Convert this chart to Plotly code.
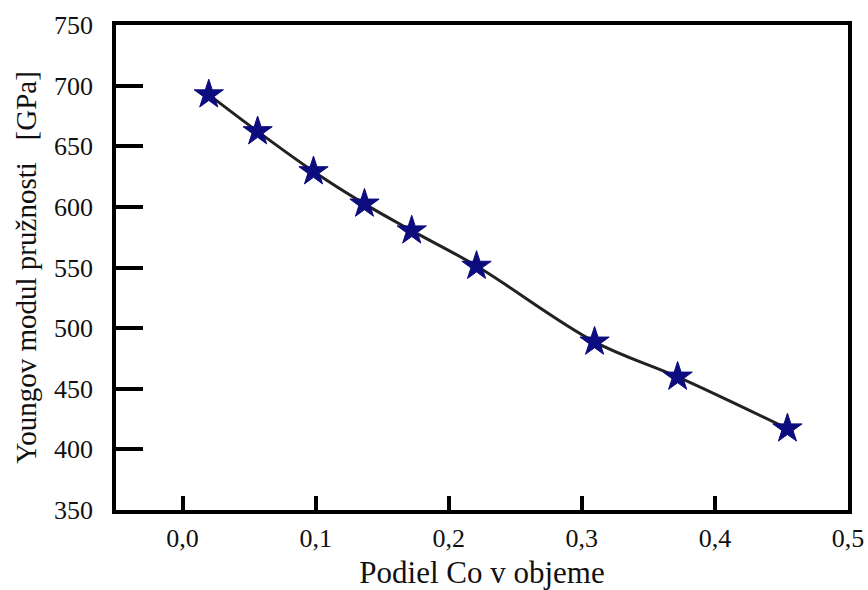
import plotly.graph_objects as go

co_fraction = [0.0197, 0.0564, 0.0984, 0.1367, 0.1722, 0.2209, 0.3096, 0.372, 0.4545]
young_modulus = [692.6, 662.2, 629.2, 602.5, 580.4, 551.2, 488.7, 459.8, 417.1]

x_tickvals = [0.0, 0.1, 0.2, 0.3, 0.4, 0.5]
x_ticktext = ["0,0", "0,1", "0,2", "0,3", "0,4", "0,5"]
y_tickvals = [350, 400, 450, 500, 550, 600, 650, 700, 750]

font_family = "Liberation Serif, Times New Roman, serif"

fig = go.Figure()
fig.add_trace(go.Scatter(
    x=co_fraction, y=young_modulus, mode="lines",
    line=dict(color="#222222", width=3, shape="spline", smoothing=1.0),
    showlegend=False, hoverinfo="skip"))
fig.add_trace(go.Scatter(
    x=co_fraction, y=young_modulus, mode="markers",
    marker=dict(symbol="star", size=22, color="#0c0c7e",
                line=dict(color="#0c0c7e", width=1)),
    showlegend=False))

axis_common = dict(
    showgrid=False, zeroline=False, showline=True, linecolor="black",
    linewidth=3.5, mirror=True, ticks="inside", tickcolor="black",
    tickwidth=3.5, automargin=False,
    tickfont=dict(family=font_family, size=26, color="#111"),
)

fig.update_xaxes(
    range=[-0.05, 0.5], tickvals=x_tickvals, ticktext=x_ticktext,
    ticklen=14, ticklabelstandoff=2,
    title=dict(text="Podiel Co v objeme", standoff=19,
               font=dict(family=font_family, size=31, color="#111")),
    **axis_common)
fig.update_yaxes(
    range=[350, 750], tickvals=y_tickvals, ticklen=27, ticklabelstandoff=14,
    title=dict(text="Youngov modul pružnosti   [GPa]", standoff=10,
               font=dict(family=font_family, size=29, color="#111")),
    **axis_common)

fig.update_layout(
    width=868, height=590,
    margin=dict(l=116, r=20, t=25, b=80),
    plot_bgcolor="white", paper_bgcolor="white",
    font=dict(family=font_family),
)

fig.write_html(
    "out.html",
    config={"displayModeBar": False},
    post_script="document.body.style.margin='0';"
                "document.documentElement.style.overflow='hidden';")
